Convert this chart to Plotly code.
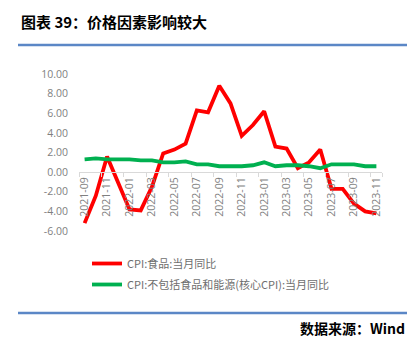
import plotly.graph_objects as go

# Monthly series, 2021-09 .. 2023-11
months = ["2021-09", "2021-10", "2021-11", "2021-12",
          "2022-01", "2022-02", "2022-03", "2022-04", "2022-05", "2022-06",
          "2022-07", "2022-08", "2022-09", "2022-10", "2022-11", "2022-12",
          "2023-01", "2023-02", "2023-03", "2023-04", "2023-05", "2023-06",
          "2023-07", "2023-08", "2023-09", "2023-10", "2023-11"]
cpi_food = [-5.2, -2.4, 1.6, -1.2, -3.8, -3.9, -1.5, 1.9, 2.3, 2.9,
            6.3, 6.1, 8.8, 7.0, 3.7, 4.8, 6.2, 2.6, 2.4, 0.4, 1.0, 2.3,
            -1.7, -1.7, -3.2, -4.0, -4.2]
cpi_core = [1.3, 1.4, 1.3, 1.3, 1.3, 1.2, 1.2, 1.0, 1.0, 1.1,
            0.8, 0.8, 0.6, 0.6, 0.6, 0.7, 1.0, 0.6, 0.7, 0.7, 0.6, 0.4,
            0.8, 0.8, 0.8, 0.6, 0.6]
tick_months = months[::2]
y_ticks = [-6, -4, -2, 0, 2, 4, 6, 8, 10]

name_food = "CPI:食品:当月同比"
name_core = "CPI:不包括食品和能源(核心CPI):当月同比"

W, H = 415, 342
L, R, T, B = 79, 382, 74, 231  # plot area in pixels


def px(x):
    return (x - L) / (R - L)


def py(y):
    return (B - y) / (B - T)


fig = go.Figure()
fig.add_trace(go.Scatter(x=months, y=cpi_food, mode="lines", name=name_food,
                         line=dict(color="#FF0000", width=3.8),
                         legendgroup="a"))
fig.add_trace(go.Scatter(x=months, y=cpi_core, mode="lines", name=name_core,
                         line=dict(color="#00B050", width=3.8),
                         legendgroup="b"))

gray = "#7F7F7F"
fig.update_layout(
    width=W, height=H,
    margin=dict(l=L, r=W - R, t=T, b=H - B, pad=0),
    paper_bgcolor="white", plot_bgcolor="white",
    showlegend=True,
    legend=dict(x=px(87), y=py(249), xanchor="left", yanchor="top",
                bgcolor="rgba(0,0,0,0)", font=dict(size=11, color="#6E6E6E",
                family="Noto Sans CJK SC"),
                itemwidth=30, tracegroupgap=2, traceorder="grouped"),
    xaxis=dict(type="category", range=[-0.5, len(months) - 0.5],
               tickmode="array", tickvals=tick_months, ticktext=tick_months,
               tickangle=-90, tickson="boundaries", ticks="outside",
               ticklen=4, tickcolor="#D9D9D9",
               showline=True, linecolor="#D9D9D9", linewidth=1,
               showgrid=False, zeroline=False,
               anchor="free", position=6 / 16,
               tickfont=dict(size=10.5, color=gray, family="Open Sans"),
               automargin=False),
    yaxis=dict(range=[-6, 10], tickvals=y_ticks,
               ticktext=[f"{v:.2f}" for v in y_ticks],
               showgrid=False, zeroline=False, showline=False, ticks="",
               ticklabelstandoff=10,
               tickfont=dict(size=10.5, color=gray, family="Open Sans"),
               automargin=False),
)

blue = "#5B87C6"
for yy in (45, 313):
    fig.add_shape(type="line", xref="paper", yref="paper",
                  x0=px(18), x1=px(407), y0=py(yy), y1=py(yy),
                  line=dict(color=blue, width=2.5))

fig.add_annotation(text="<b>图表 39：价格因素影响较大</b>", xref="paper", yref="paper",
                   x=px(19), y=py(21), xanchor="left", yanchor="middle",
                   showarrow=False,
                   font=dict(size=15, color="#000000", family="Noto Sans CJK SC"))
fig.add_annotation(text="<b>数据来源：Wind</b>", xref="paper", yref="paper",
                   x=px(407), y=py(328), xanchor="right", yanchor="middle",
                   showarrow=False,
                   font=dict(size=14, color="#000000", family="Noto Sans CJK SC"))

fig.write_html("out.html")
